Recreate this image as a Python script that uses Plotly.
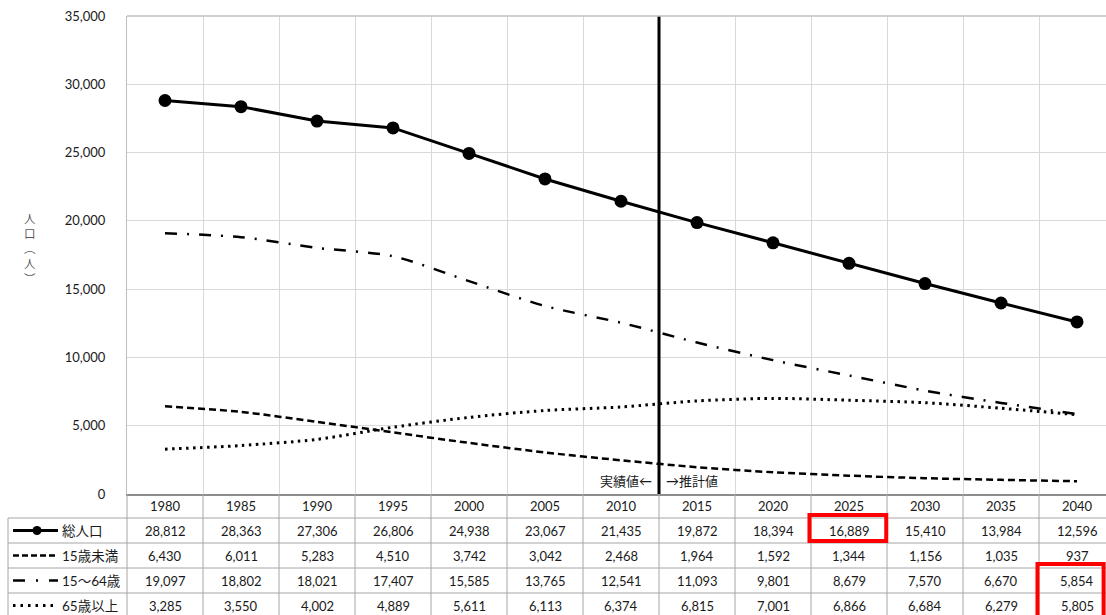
import plotly.graph_objects as go

# Population by age group (persons); 1980-2010 actual, 2015 onward projected
years = [1980, 1985, 1990, 1995, 2000, 2005, 2010, 2015, 2020, 2025, 2030, 2035, 2040]
total = [28812, 28363, 27306, 26806, 24938, 23067, 21435, 19872, 18394, 16889, 15410, 13984, 12596]
under15 = [6430, 6011, 5283, 4510, 3742, 3042, 2468, 1964, 1592, 1344, 1156, 1035, 937]
age15_64 = [19097, 18802, 18021, 17407, 15585, 13765, 12541, 11093, 9801, 8679, 7570, 6670, 5854]
over65 = [3285, 3550, 4002, 4889, 5611, 6113, 6374, 6815, 7001, 6866, 6684, 6279, 5805]
series_names = ["総人口", "15歳未満", "15～64歳", "65歳以上"]
y_ticks = [0, 5000, 10000, 15000, 20000, 25000, 30000, 35000]

# page geometry (px)
W, H = 1106, 615
ML, MR, MT, MB = 127, 0, 16, 121
PW, PH = W - ML - MR, H - MT - MB
COL = 76  # px per 5-year column
STEP = years[1] - years[0]
x_lo = years[0] - STEP / 2
x_hi = x_lo + PW / COL * STEP

FONT = "Lato, 'Noto Sans CJK JP', sans-serif"
GRID = "#d9d9d9"
TABLE_LINE = "#a6a6a6"
TEXT = "#1a1a1a"
NUM_SIZE = 13


def fy(px):
    """Vertical pixel position -> paper coordinate."""
    return (MT + PH - px) / PH


def fx(px):
    """Horizontal pixel position -> paper coordinate."""
    return (px - ML) / PW


def label(x, y, text, xref="x", xanchor="center", size=NUM_SIZE, color=TEXT, xshift=0):
    return dict(xref=xref, yref="paper", x=x, y=y, xanchor=xanchor, yanchor="middle",
                xshift=xshift, showarrow=False, text=text,
                font=dict(family=FONT, size=size, color=color))


fig = go.Figure()

fig.add_trace(go.Scatter(
    x=years, y=under15, mode="lines", name=series_names[1],
    line=dict(color="black", width=2.5, dash="7px,4px", shape="spline", smoothing=0.8),
))
fig.add_trace(go.Scatter(
    x=years, y=age15_64, mode="lines", name=series_names[2],
    line=dict(color="black", width=2.5, dash="12px,10px,2px,10px", shape="spline", smoothing=0.8),
))
fig.add_trace(go.Scatter(
    x=years, y=over65, mode="lines", name=series_names[3],
    line=dict(color="black", width=3, dash="2.5px,4.5px", shape="spline", smoothing=0.8),
))
fig.add_trace(go.Scatter(
    x=years, y=total, mode="lines+markers", name=series_names[0],
    line=dict(color="black", width=3),
    marker=dict(color="black", size=13),
))

shapes = []
annotations = []

# divider between actual and projected values
split_x = (years[6] + years[7]) / 2
shapes.append(dict(type="line", xref="x", yref="paper", x0=split_x, x1=split_x,
                   y0=0, y1=1, line=dict(color="black", width=3), layer="above"))
annotations.append(label(split_x, fy(481), "実績値←", xanchor="right", size=13, xshift=-5))
annotations.append(label(split_x, fy(481), "→推計値", xanchor="left", size=13, xshift=5))

# top border of the plot area
shapes.append(dict(type="line", xref="paper", yref="paper", x0=0, x1=1, y0=1, y1=1,
                   line=dict(color="#bfbfbf", width=1.5)))

# data table below the chart
row_edges = [494, 518, 543, 568, 593, 618]
row_centers = [(a + b) / 2 for a, b in zip(row_edges[:-1], row_edges[1:])]
boundaries = [y - STEP / 2 for y in years] + [years[-1] + STEP / 2]

for b in boundaries[1:]:
    shapes.append(dict(type="line", xref="x", yref="paper", x0=b, x1=b,
                       y0=fy(row_edges[-1]), y1=0, line=dict(color=TABLE_LINE, width=1)))
shapes.append(dict(type="line", xref="paper", yref="paper", x0=0, x1=0,
                   y0=fy(row_edges[-1]), y1=0, line=dict(color=TABLE_LINE, width=1)))
# legend column left border and the row separators
shapes.append(dict(type="line", xref="paper", yref="paper", x0=fx(8), x1=fx(8),
                   y0=fy(row_edges[-1]), y1=fy(row_edges[1]), line=dict(color=TABLE_LINE, width=1)))
for e in row_edges[1:-1]:
    shapes.append(dict(type="line", xref="paper", yref="paper", x0=fx(8), x1=1,
                       y0=fy(e), y1=fy(e), line=dict(color=TABLE_LINE, width=1)))

# year header row
for yr in years:
    annotations.append(label(yr, fy(row_centers[0]), str(yr)))

# value rows
for values, rc in zip([total, under15, age15_64, over65], row_centers[1:]):
    for yr, v in zip(years, values):
        annotations.append(label(yr, fy(rc), f"{v:,}"))

# legend keys in the first column
key_x0, key_x1 = fx(13), fx(58)
key_styles = [
    dict(color="black", width=3),
    dict(color="black", width=2.5, dash="6px,3px"),
    dict(color="black", width=2.5, dash="12px,11px,2px,11px"),
    dict(color="black", width=3, dash="2.5px,5px"),
]
for name, style, rc in zip(series_names, key_styles, row_centers[1:]):
    shapes.append(dict(type="line", xref="paper", yref="paper", x0=key_x0, x1=key_x1,
                       y0=fy(rc), y1=fy(rc), line=style))
    annotations.append(label(fx(60), fy(rc), name, xref="paper", xanchor="left", size=13.5))
# marker in the total-population key
r = 4.5
shapes.append(dict(type="circle", xref="paper", yref="paper",
                   x0=fx(37 - r), x1=fx(37 + r),
                   y0=fy(row_centers[1] + r), y1=fy(row_centers[1] - r),
                   fillcolor="black", line=dict(color="black", width=0)))

# highlighted cells
shapes.append(dict(type="rect", xref="x", yref="paper", x0=2022.4, x1=2027.45,
                   y0=fy(541), y1=fy(515), line=dict(color="red", width=4)))
shapes.append(dict(type="rect", xref="x", yref="paper", x0=2037.4, x1=2041.75,
                   y0=fy(618), y1=fy(564), line=dict(color="red", width=4)))

# vertical axis title
annotations.append(label(fx(30), fy(248), "人<br>口<br>︵<br>人<br>︶", xref="paper",
                         size=11.5, color="#595959"))

fig.update_layout(
    width=W, height=H,
    margin=dict(l=ML, r=MR, t=MT, b=MB, pad=0),
    paper_bgcolor="white", plot_bgcolor="white",
    showlegend=False,
    shapes=shapes, annotations=annotations,
    xaxis=dict(range=[x_lo, x_hi], tickvals=boundaries, showticklabels=False,
               showgrid=True, gridcolor=GRID, gridwidth=1, zeroline=False,
               showline=True, linecolor="#8c8c8c", linewidth=2, ticks=""),
    yaxis=dict(range=[0, 35000], tickvals=y_ticks, tickformat=",", showgrid=True,
               gridcolor=GRID, gridwidth=1, zeroline=False, showline=True,
               linecolor="#bfbfbf", linewidth=1, ticks="", ticklabelstandoff=18,
               tickfont=dict(family=FONT, size=NUM_SIZE, color=TEXT)),
)

fig.write_html("out.html")
